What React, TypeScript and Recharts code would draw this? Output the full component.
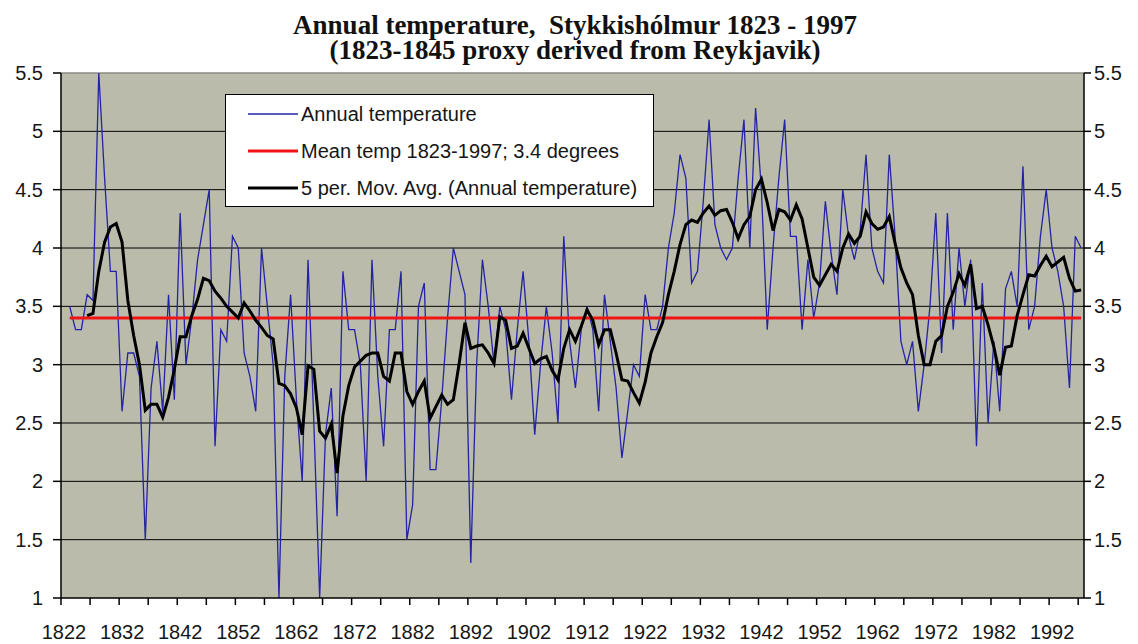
import React from 'react';
import { LineChart, Line, XAxis, YAxis, CartesianGrid, Legend, ReferenceLine } from 'recharts';

// ---- data ----
const firstYear = 1823;

// Annual mean temperature, Stykkishólmur, 1823 .. 1997
const annualTemp = [
  3.5, 3.3, 3.3, 3.6, 3.55, 5.5, 4.6, // 1823-1829
  3.8, 3.8, 2.6, 3.1, 3.1, 2.9, 1.5, 2.8, 3.2, 2.6, // 1830s
  3.6, 2.7, 4.3, 3.0, 3.4, 3.9, 4.2, 4.5, 2.3, 3.3, // 1840s
  3.2, 4.1, 4.0, 3.1, 2.9, 2.6, 4.0, 3.5, 3.0, 1.0, // 1850s
  2.9, 3.6, 2.7, 2.0, 3.9, 2.5, 1.0, 2.4, 2.8, 1.7, // 1860s
  3.8, 3.3, 3.3, 3.0, 2.0, 3.9, 2.9, 2.3, 3.3, 3.3, // 1870s
  3.8, 1.5, 1.8, 3.5, 3.7, 2.1, 2.1, 2.7, 3.4, 4.0, // 1880s
  3.8, 3.6, 1.3, 3.0, 3.9, 3.5, 3.0, 3.5, 3.3, 2.7, // 1890s
  3.3, 3.8, 3.2, 2.4, 3.0, 3.5, 3.1, 2.5, 4.1, 3.2, // 1900s
  2.8, 3.3, 3.5, 3.3, 2.6, 3.6, 3.2, 2.8, 2.2, 2.6, // 1910s
  3.0, 2.9, 3.6, 3.3, 3.3, 3.5, 4.0, 4.3, 4.8, 4.6, // 1920s
  3.7, 3.8, 4.4, 5.1, 4.2, 4.0, 3.9, 4.0, 4.6, 5.1, // 1930s
  4.0, 5.2, 4.5, 3.3, 4.0, 4.6, 5.1, 4.1, 4.1, 3.3, // 1940s
  3.9, 3.4, 3.7, 4.4, 3.95, 3.6, 4.5, 4.1, 3.9, 4.15, // 1950s
  4.8, 4.0, 3.8, 3.7, 4.8, 4.1, 3.2, 3.0, 3.2, 2.6, // 1960s
  3.0, 3.5, 4.3, 3.1, 4.3, 3.3, 4.0, 3.5, 3.9, 2.3, // 1970s
  3.7, 2.5, 3.2, 2.6, 3.65, 3.8, 3.5, 4.7, 3.3, 3.5, // 1980s
  4.1, 4.5, 4.0, 3.8, 3.5, 2.8, 4.1, 4.0, // 1990-1997
];

// 5 period moving average trendline, as drawn, 1826 .. 1997
const maStartYear = 1826;
const movingAvg5 = [
  3.42, 3.44, 3.8, 4.05, // 1826-1829
  4.18, 4.21, 4.05, 3.55, 3.25, 3.0, 2.61, 2.66, 2.66, 2.55, // 1830s
  2.72, 2.96, 3.24, 3.24, 3.42, 3.56, 3.74, 3.72, 3.63, 3.57, // 1840s
  3.5, 3.45, 3.4, 3.53, 3.46, 3.38, 3.32, 3.25, 3.22, 2.84, // 1850s
  2.82, 2.75, 2.63, 2.4, 2.99, 2.96, 2.43, 2.37, 2.49, 2.07, // 1860s
  2.56, 2.82, 2.98, 3.03, 3.08, 3.1, 3.1, 2.9, 2.86, 3.1, // 1870s
  3.1, 2.77, 2.66, 2.77, 2.86, 2.54, 2.64, 2.74, 2.66, 2.7, // 1880s
  3.01, 3.36, 3.14, 3.16, 3.17, 3.1, 3.01, 3.41, 3.38, 3.14, // 1890s
  3.16, 3.27, 3.14, 3.01, 3.05, 3.07, 2.95, 2.87, 3.14, 3.3, // 1900s
  3.2, 3.33, 3.47, 3.38, 3.17, 3.3, 3.3, 3.1, 2.87, 2.86, // 1910s
  2.76, 2.67, 2.85, 3.1, 3.24, 3.36, 3.6, 3.8, 4.03, 4.2, // 1920s
  4.24, 4.22, 4.3, 4.36, 4.28, 4.32, 4.33, 4.22, 4.08, 4.2, // 1930s
  4.27, 4.5, 4.59, 4.39, 4.15, 4.33, 4.31, 4.24, 4.37, 4.25, // 1940s
  4.0, 3.75, 3.68, 3.77, 3.86, 3.8, 4.0, 4.12, 4.04, 4.1, // 1950s
  4.31, 4.21, 4.16, 4.18, 4.27, 4.04, 3.83, 3.7, 3.6, 3.25, // 1960s
  3.0, 3.0, 3.2, 3.25, 3.5, 3.62, 3.78, 3.68, 3.86, 3.48, // 1970s
  3.5, 3.34, 3.15, 2.91, 3.15, 3.16, 3.42, 3.6, 3.77, 3.76, // 1980s
  3.85, 3.93, 3.84, 3.88, 3.92, 3.74, 3.63, 3.64, // 1990-1997
];

const meanTemp = 3.4;

const yTicks = [1, 1.5, 2, 2.5, 3, 3.5, 4, 4.5, 5, 5.5];
const gridValues = [1.5, 2, 2.5, 3, 3.5, 4, 4.5, 5];
const xLabelYears = [1822, 1832, 1842, 1852, 1862, 1872, 1882, 1892, 1902, 1912, 1922, 1932, 1942, 1952, 1962, 1972, 1982, 1992];
const xTickMarks = [
  1821.5, 1826.5, 1831.5, 1836.5, 1841.5, 1846.5, 1851.5, 1856.5, 1861.5, 1866.5, 1871.5, 1876.5,
  1881.5, 1886.5, 1891.5, 1896.5, 1901.5, 1906.5, 1911.5, 1916.5, 1921.5, 1926.5, 1931.5, 1936.5,
  1941.5, 1946.5, 1951.5, 1956.5, 1961.5, 1966.5, 1971.5, 1976.5, 1981.5, 1986.5, 1991.5, 1996.5,
];

const seriesNames = {
  annual: 'Annual temperature',
  mean: 'Mean temp 1823-1997; 3.4 degrees',
  ma: '5 per. Mov. Avg. (Annual temperature)',
};
const legendOrder = [seriesNames.annual, seriesNames.mean, seriesNames.ma];

const data = annualTemp.map((t, i) => {
  const year = firstYear + i;
  const k = year - maStartYear;
  return { year, annual: t, mean: meanTemp, ma: k >= 0 ? movingAvg5[k] : null };
});

// ---- styles ----
const SANS = '"Liberation Sans", Arial, Helvetica, sans-serif';
const SERIF = '"Liberation Serif", "Times New Roman", Times, serif';
const BLUE = '#2323a6';
const RED = '#f21414';
const BLACK = '#000000';
const PLOT_BG = '#bbbbab';
const TEXT = '#161616';

const lineWidths: Record<string, number> = {
  [seriesNames.annual]: 1.3,
  [seriesNames.mean]: 3,
  [seriesNames.ma]: 3,
};

const XTick = (props: any) => {
  const { x, y, payload } = props;
  const yr = Math.round(payload.value + 0.5);
  if (!xLabelYears.includes(yr)) return <g />;
  return (
    <text x={x} y={y} dx={3} dy="0.71em" textAnchor="middle" fontSize={20} fill={TEXT} fontFamily={SANS}>
      {yr}
    </text>
  );
};

const LegendBox = (props: any) => {
  const payload = [...(props.payload || [])].sort(
    (a: any, b: any) => legendOrder.indexOf(a.value) - legendOrder.indexOf(b.value)
  );
  const rowTops = [7, 44, 81];
  return (
    <div
      style={{
        position: 'relative',
        width: 429,
        height: 113,
        boxSizing: 'border-box',
        background: '#ffffff',
        border: '1.5px solid #000',
      }}
    >
      {payload.map((entry: any, i: number) => (
        <div
          key={entry.value}
          style={{
            position: 'absolute',
            left: 22,
            top: rowTops[i] ?? 7 + i * 37,
            height: 24,
            display: 'flex',
            alignItems: 'center',
            whiteSpace: 'nowrap',
          }}
        >
          <svg width={50} height={24} style={{ display: 'block' }}>
            <line x1={0} x2={50} y1={12} y2={12} stroke={entry.color} strokeWidth={lineWidths[entry.value] ?? 2} />
          </svg>
          <span style={{ fontFamily: SANS, fontSize: 20, color: TEXT, marginLeft: 3, lineHeight: '24px' }}>
            {entry.value}
          </span>
        </div>
      ))}
    </div>
  );
};

export default function App() {
  return (
    <div style={{ position: 'absolute', left: 0, top: 0, width: 1138, height: 644, background: '#ffffff' }}>
      <div
        style={{
          position: 'absolute',
          left: 6,
          top: 13,
          width: 1138,
          textAlign: 'center',
          fontFamily: SERIF,
          fontWeight: 'bold',
          fontSize: 27,
          lineHeight: '25px',
          color: '#111',
          whiteSpace: 'pre',
          zIndex: 2,
        }}
      >
        {'Annual temperature,  Stykkishólmur 1823 - 1997\n(1823-1845 proxy derived from Reykjavik)'}
      </div>
      <LineChart width={1138} height={644} data={data} margin={{ top: 73, right: 0, bottom: 0, left: 0 }}>
        <CartesianGrid
          yAxisId="left"
          vertical={false}
          horizontalValues={gridValues}
          stroke="#000"
          strokeWidth={1}
          fill={PLOT_BG}
          fillOpacity={1}
        />
        <XAxis
          dataKey="year"
          type="number"
          domain={[1821.5, 1997.5]}
          allowDataOverflow
          ticks={xTickMarks}
          interval={0}
          height={46}
          tickSize={7}
          tickMargin={20}
          axisLine={{ stroke: '#000', strokeWidth: 1.5 }}
          tickLine={{ stroke: '#000', strokeWidth: 1.5 }}
          tick={<XTick />}
        />
        <YAxis
          yAxisId="left"
          orientation="left"
          domain={[1, 5.5]}
          allowDataOverflow
          ticks={yTicks}
          interval={0}
          width={61}
          tickSize={8}
          tickMargin={10}
          axisLine={{ stroke: '#000', strokeWidth: 1.5 }}
          tickLine={{ stroke: '#000', strokeWidth: 1.5 }}
          tick={{ fontSize: 20, fill: TEXT, fontFamily: SANS }}
          tickFormatter={(v: number) => String(v)}
        />
        <YAxis
          yAxisId="right"
          orientation="right"
          domain={[1, 5.5]}
          allowDataOverflow
          ticks={yTicks}
          interval={0}
          width={54}
          tickSize={7}
          tickMargin={3}
          axisLine={{ stroke: '#000', strokeWidth: 1.5 }}
          tickLine={{ stroke: '#000', strokeWidth: 1.5 }}
          tick={{ fontSize: 20, fill: TEXT, fontFamily: SANS }}
          tickFormatter={(v: number) => String(v)}
        />
        <ReferenceLine yAxisId="left" y={5.5} stroke="#8c8c86" strokeWidth={1.5} />
        <Line
          yAxisId="left"
          type="linear"
          dataKey="annual"
          name={seriesNames.annual}
          stroke={BLUE}
          strokeWidth={1.3}
          dot={false}
          activeDot={false}
          isAnimationActive={false}
        />
        <Line
          yAxisId="left"
          type="linear"
          dataKey="mean"
          name={seriesNames.mean}
          stroke={RED}
          strokeWidth={3}
          dot={false}
          activeDot={false}
          isAnimationActive={false}
        />
        <Line
          yAxisId="left"
          type="linear"
          dataKey="ma"
          name={seriesNames.ma}
          stroke={BLACK}
          strokeWidth={3}
          dot={false}
          activeDot={false}
          connectNulls={false}
          isAnimationActive={false}
        />
        <Legend
          layout="vertical"
          align="center"
          verticalAlign="middle"
          wrapperStyle={{ left: 225, top: 94, width: 429, height: 113 }}
          content={<LegendBox />}
        />
      </LineChart>
    </div>
  );
}
